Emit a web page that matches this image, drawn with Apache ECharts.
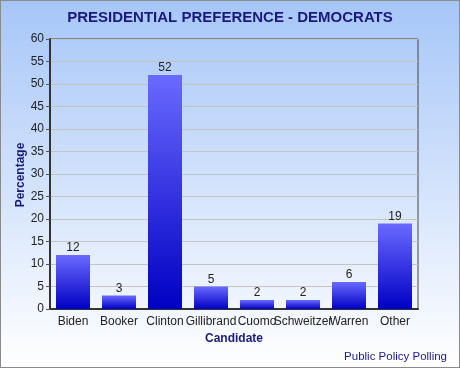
<!DOCTYPE html>
<html><head><meta charset="utf-8">
<script src="https://cdn.jsdelivr.net/npm/echarts@6/dist/echarts.min.js"></script>
<style>html,body{margin:0;padding:0;}#c{width:460px;height:368px;box-sizing:border-box;border:1px solid #8a8a8a;}</style>
</head><body><div id="c"></div>
<script>
const categories = ['Biden','Booker','Clinton','Gillibrand','Cuomo','Schweitzer','Warren','Other'];
const values = [12,3,52,5,2,2,6,19];
const titleText = 'PRESIDENTIAL PREFERENCE - DEMOCRATS';
const xName = 'Candidate';
const yName = 'Percentage';
const credit = 'Public Policy Polling';

const chart = echarts.init(document.getElementById('c'), null, {renderer:'canvas'});
chart.setOption({
  animation:false,
  backgroundColor:{type:'linear',x:0,y:0,x2:0,y2:1,colorStops:[{offset:0,color:'#a6c6f8'},{offset:1,color:'#ffffff'}]},
  title:[{text:titleText,left:'center',top:4,textStyle:{fontFamily:'Liberation Sans',fontSize:15,fontWeight:'bold',color:'#1a1a7a'}},
         {text:credit,right:7,bottom:-1,textStyle:{fontFamily:'Liberation Sans',fontSize:11.5,fontWeight:'normal',color:'#1a1a8a'}}],
  graphic:[{type:'text',x:20,y:174,rotation:Math.PI/2,
    style:{text:yName,font:'bold 12px "Liberation Sans"',fill:'#1a1a7a',textAlign:'center',textVerticalAlign:'middle'}}],
  grid:{left:49,top:38,right:41,bottom:58,show:true,borderColor:'#444',borderWidth:1,backgroundColor:'transparent'},
  xAxis:{type:'category',data:categories,name:xName,nameLocation:'middle',nameGap:22,
    nameTextStyle:{fontFamily:'Liberation Sans',fontSize:12,fontWeight:'bold',color:'#1a1a7a'},
    axisLine:{lineStyle:{color:'#333',width:2}},axisTick:{alignWithLabel:true,length:4,lineStyle:{color:'#555'}},
    axisLabel:{fontFamily:'Liberation Sans',fontSize:12,color:'#222',margin:7,interval:0}},
  yAxis:{type:'value',min:0,max:60,interval:5,
    axisLine:{show:true,lineStyle:{color:'#333',width:2}},axisTick:{show:true,length:4,lineStyle:{color:'#555'}},
    axisLabel:{fontFamily:'Liberation Sans',fontSize:12,color:'#222',margin:6},
    splitLine:{lineStyle:{color:'#c4c4c4'}}},
  series:[{type:'bar',data:values,barWidth:34,
    itemStyle:{color:{type:'linear',x:0,y:0,x2:0,y2:1,colorStops:[{offset:0,color:'#6a6aff'},{offset:1,color:'#0000c4'}]},borderColor:'#8c8cff',borderWidth:0},
    label:{show:true,position:'top',distance:1,fontFamily:'Liberation Sans',fontSize:12,color:'#222'}}]
});
</script></body></html>
